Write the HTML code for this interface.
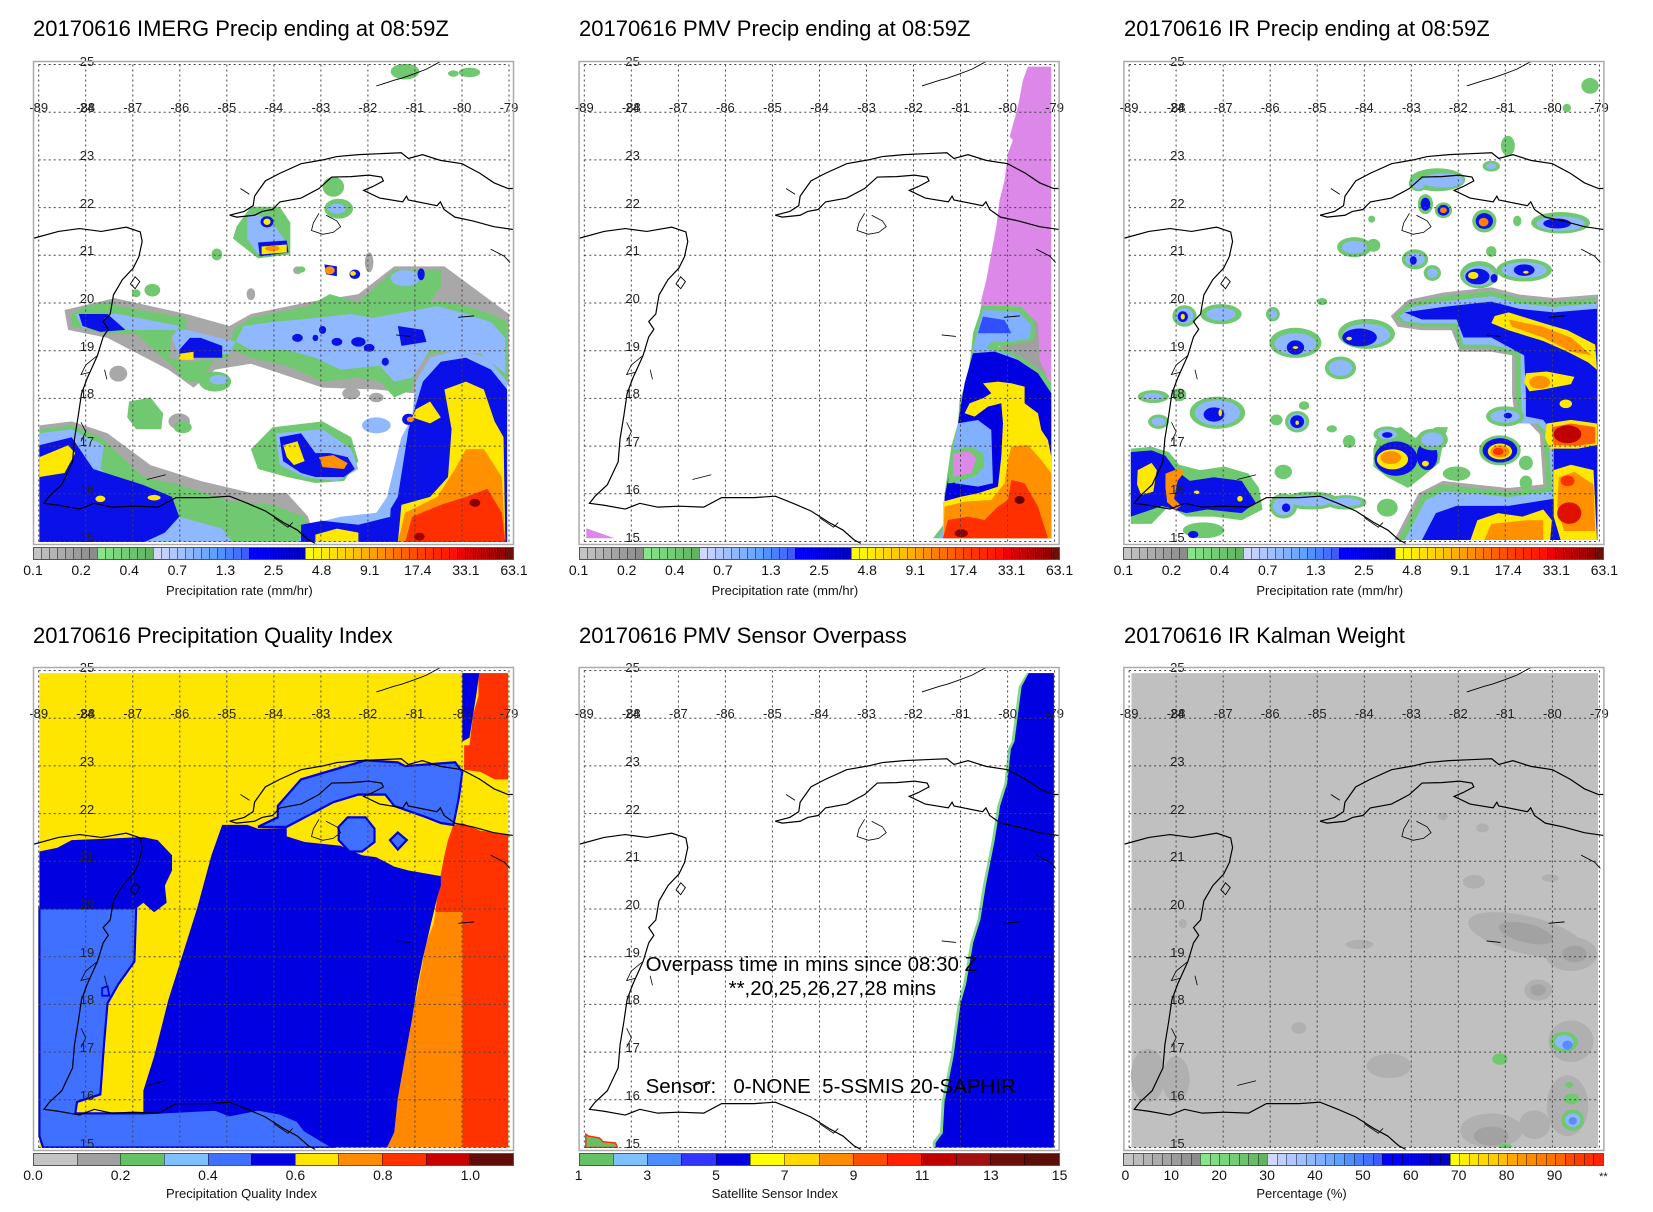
<!DOCTYPE html>
<html><head><meta charset="utf-8">
<style>
body{margin:0;background:#fff;}
#w{position:relative;width:1653px;height:1212px;overflow:hidden;background:#fff;font-family:"Liberation Sans",sans-serif;}
svg{position:absolute;left:0;top:0;}
.cb{position:absolute;height:13px;width:481px;display:flex;box-sizing:border-box;border:1px solid #555;}
.cb i{flex:1;border-left:1px solid rgba(0,0,0,0.45);}
.cb i:first-child{border-left:none;}
</style></head><body><div id="w">
<svg width="1653" height="1212" viewBox="0 0 1653 1212" font-family="Liberation Sans, sans-serif">
<defs>
<clipPath id="da"><rect x="5" y="3" width="471" height="478"/></clipPath>
<g id="grid" stroke="#444" stroke-width="1" stroke-dasharray="2,3" fill="none">
<path d="M5.7 3.5V480.5M52.7 3.5V480.5M99.8 3.5V480.5M146.8 3.5V480.5M193.8 3.5V480.5M240.9 3.5V480.5M287.9 3.5V480.5M334.9 3.5V480.5M381.9 3.5V480.5M429 3.5V480.5M476 3.5V480.5"/>
<path d="M5.7 3.5H476M5.7 51.2H476M5.7 98.9H476M5.7 146.6H476M5.7 194.3H476M5.7 242H476M5.7 289.7H476M5.7 337.4H476M5.7 385.1H476M5.7 432.8H476M5.7 480.5H476"/>
</g>
<g id="coast" transform="matrix(47.03,0,0,-47.7,4191.37,1196)" fill="none" stroke="#000" stroke-width="1.2">
<path vector-effect="non-scaling-stroke" d="M-89.1 21.36L-88.58 21.5-88.13 21.56-87.67 21.5-87.14 21.59-86.84 21.49-86.8 21.29-86.87 20.97-86.99 20.73-87.22 20.49-87.41 20.17-87.48 19.77-87.63 19.61-87.52 19.45-87.63 19.29-87.75 18.9-87.97 18.42-88.09 18.1-88.16 17.63-88.24 17.15-88.28 16.67-88.51 16.19-88.77 15.95-88.89 15.8-88.58 15.76-88.13 15.68-87.82 15.8-87.44 15.72-86.99 15.74-86.46 15.72-86.08 15.92-85.39 15.92-84.94 15.95-84.56 15.8-84.18 15.64-83.8 15.4-83.5 15.24-83.27 15.04-83.12 14.96"/>
<path vector-effect="non-scaling-stroke" d="M-84.94 21.84L-84.63 21.92-84.44 22.04-84.41 22.24-84.18 22.56-83.87 22.72-83.42 22.92-82.96 23-82.66 23.07-82.2 23.11-81.75 23.13-81.29 23.15-81.14 23.03-80.84 23.11-80.46 22.99-80 22.92-79.62 22.72-79.32 22.52-79.02 22.4-78.9 22.4"/>
<path vector-effect="non-scaling-stroke" d="M-78.9 21.54L-79.32 21.6-79.77 21.72-80.15 21.8-80.38 21.96-80.46 22.12-80.53 22.04-81.14 22.16-81.18 22.24-81.26 22.12-81.75 22.2-82.09 22.36-81.9 22.44-81.67 22.56-81.71 22.64-81.98 22.68-82.36 22.65-82.77 22.64-83.04 22.4-83.42 22.2-83.87 22.12-84.03 21.96-84.25 21.92-84.41 21.84-84.79 21.8-84.94 21.84"/>
<path vector-effect="non-scaling-stroke" stroke-width="0.8" d="M-83.04 21.88L-83.16 21.68-83.2 21.52-82.96 21.44-82.74 21.48-82.58 21.6-82.66 21.72-82.89 21.84"/>
<path vector-effect="non-scaling-stroke" stroke-width="0.9" d="M-81.82 24.55L-81.44 24.67-81.29 24.71-81.06 24.79-80.76 24.9-80.46 25.06M-84.71 22.4L-84.52 22.28M-79.39 21.13L-79.1 20.98-78.98 20.85M-80.08 19.7L-79.74 19.73M-81.4 19.33L-81.1 19.3M-86.95 20.55L-86.85 20.45-86.95 20.3-87.05 20.4Z"/>
<path vector-effect="non-scaling-stroke" stroke-width="0.8" d="M-87.75 18.9L-88.0 18.7-88.1 18.5-87.9 18.55M-87.6 18.6L-87.55 18.4M-88.1 17.5L-88.0 17.3-88.1 17.1M-86.7 16.3L-86.3 16.4M-84.0 15.5L-83.7 15.3-83.6 15.4"/>
</g>
<g id="lab" font-size="13" fill="#222" text-anchor="middle">
<text x="5.7" y="51">-89</text><text x="52.7" y="51">-88</text><text x="99.8" y="51">-87</text><text x="146.8" y="51">-86</text><text x="193.8" y="51">-85</text><text x="240.9" y="51">-84</text><text x="287.9" y="51">-83</text><text x="334.9" y="51">-82</text><text x="381.9" y="51">-81</text><text x="429" y="51">-80</text><text x="476" y="51">-79</text>
<text x="54" y="5">25</text><text x="54" y="51">24</text><text x="54" y="99">23</text><text x="54" y="147">22</text><text x="54" y="194">21</text><text x="54" y="242">20</text><text x="54" y="290">19</text><text x="54" y="337">18</text><text x="54" y="385">17</text><text x="54" y="433">16</text><text x="54" y="481">15</text>
</g>
</defs>

<g font-size="22" fill="#000">
<text x="33" y="36">20170616 IMERG Precip ending at 08:59Z</text>
<text x="579" y="36">20170616 PMV Precip ending at 08:59Z</text>
<text x="1124" y="36">20170616 IR Precip ending at 08:59Z</text>
<text x="33" y="643">20170616 Precipitation Quality Index</text>
<text x="579" y="643">20170616 PMV Sensor Overpass</text>
<text x="1124" y="643">20170616 IR Kalman Weight</text>
</g>

<!-- PANEL 1 -->
<g transform="translate(33,61)">
<g clip-path="url(#da)"><g transform="translate(-33,-61) scale(0.3584,0.3975)">
<g fill="#a8a8a8">
<path d="M180,780 L320,750 L520,790 L640,820 L700,790 L860,760 L1000,740 L1100,670 L1240,670 L1420,790 L1420,970 L1300,900 L1160,990 L1050,980 L900,975 L700,915 L600,930 L540,975 L470,930 L300,850 L190,830Z"/>
<path d="M110,1070 L200,1060 L300,1090 L420,1170 L560,1210 L700,1240 L800,1240 L860,1300 L880,1365 L110,1365Z"/>
<ellipse cx="330" cy="940" rx="25" ry="20"/><ellipse cx="500" cy="1060" rx="30" ry="20"/><ellipse cx="700" cy="740" rx="12" ry="15"/><ellipse cx="980" cy="990" rx="25" ry="15"/><ellipse cx="1050" cy="1000" rx="20" ry="12"/><ellipse cx="590" cy="1320" rx="25" ry="18"/><ellipse cx="830" cy="680" rx="12" ry="10"/><ellipse cx="1030" cy="660" rx="12" ry="25"/>
</g>
<g fill="#70c870">
<path d="M200,790 L240,770 L300,760 L330,770 L520,800 L520,830 L480,840 L470,900 L520,910 L640,900 L650,830 L700,800 L860,770 L920,740 L1000,760 L1100,680 L1230,680 L1230,720 L1200,760 L1250,760 L1300,770 L1370,790 L1415,810 L1415,960 L1360,900 L1300,880 L1200,890 L1160,930 L1150,980 L1100,1000 L1060,960 L1000,950 L900,960 L850,940 L800,920 L700,900 L650,880 L600,900 L560,960 L520,960 L480,920 L380,840 L300,840 L250,830 L200,820Z"/>
<path d="M110,1080 L200,1070 L280,1100 L400,1200 L500,1220 L640,1260 L760,1270 L850,1300 L870,1365 L110,1365Z"/>
<path d="M700,1130 L760,1075 L900,1060 L980,1100 L1000,1160 L960,1210 L880,1215 L800,1200 L720,1180Z"/>
<path d="M360,1010 L420,1000 L455,1040 L450,1080 L380,1080 L355,1050Z"/>
<path d="M700,520 L780,520 L810,560 L810,640 L720,650 L650,600 L660,570Z"/>
<ellipse cx="605" cy="640" rx="15" ry="15"/><ellipse cx="930" cy="470" rx="30" ry="25"/><ellipse cx="945" cy="525" rx="40" ry="25"/><ellipse cx="1130" cy="180" rx="40" ry="20"/><ellipse cx="1310" cy="182" rx="30" ry="12"/><ellipse cx="1265" cy="185" rx="15" ry="8"/><ellipse cx="600" cy="960" rx="45" ry="25"/><ellipse cx="425" cy="730" rx="22" ry="16"/><ellipse cx="380" cy="738" rx="12" ry="10"/><ellipse cx="510" cy="1075" rx="25" ry="15"/><ellipse cx="840" cy="678" rx="12" ry="8"/>
</g>
<g fill="#90b8ff">
<path d="M210,790 L330,790 L500,820 L480,850 L500,895 L640,890 L680,820 L760,810 L880,800 L980,790 L1040,800 L1100,790 L1220,770 L1300,790 L1370,810 L1410,850 L1410,940 L1340,890 L1200,880 L1150,950 L1100,960 L1060,920 L950,930 L880,900 L800,880 L700,880 L660,860 L520,830 L360,830 L230,825Z"/>
<path d="M110,1090 L200,1080 L240,1100 L290,1120 L280,1180 L350,1230 L480,1250 L500,1300 L620,1330 L650,1365 L110,1365Z"/>
<path d="M770,1090 L900,1080 L980,1130 L1000,1180 L940,1210 L850,1200 L780,1170Z"/>
<path d="M1080,1250 L1120,1100 L1150,1050 L1160,960 L1200,900 L1280,880 L1360,900 L1415,960 L1415,1365 L830,1365 L860,1320 L950,1300 L1050,1290Z"/>
<path d="M690,540 L720,540 L760,560 L800,610 L720,640 L690,600Z"/>
<ellipse cx="940" cy="525" rx="25" ry="12"/><ellipse cx="1130" cy="700" rx="40" ry="20"/><ellipse cx="1050" cy="1070" rx="40" ry="20"/><ellipse cx="610" cy="955" rx="25" ry="12"/>
</g>
<g fill="#0a10e8">
<path d="M1110,1250 L1140,1080 L1180,960 L1230,910 L1300,900 L1370,930 L1415,980 L1415,1365 L1085,1365 L1090,1280Z"/>
<path d="M840,1320 L900,1310 L1000,1320 L1090,1300 L1090,1365 L840,1365Z"/>
<path d="M110,1120 L200,1100 L260,1180 L400,1220 L480,1250 L500,1300 L460,1340 L400,1365 L110,1365Z"/>
<path d="M780,1100 L840,1090 L880,1140 L920,1140 L970,1150 L990,1180 L960,1200 L880,1200 L840,1190 L790,1160Z"/>
<path d="M220,790 L300,790 L350,830 L280,835 L230,820Z"/>
<path d="M500,880 L530,850 L560,850 L620,870 L620,900 L560,900 L500,900Z"/>
<path d="M1110,820 L1180,830 L1190,860 L1120,870Z"/>
<path d="M720,610 L800,605 L805,635 L725,645Z"/>
<path d="M905,665 L940,670 L940,695 L910,690Z"/>
<ellipse cx="745" cy="558" rx="18" ry="14"/><ellipse cx="900" cy="830" rx="10" ry="10"/><ellipse cx="940" cy="860" rx="15" ry="10"/><ellipse cx="1000" cy="860" rx="20" ry="12"/><ellipse cx="1030" cy="875" rx="15" ry="10"/><ellipse cx="880" cy="850" rx="8" ry="8"/><ellipse cx="830" cy="850" rx="15" ry="10"/><ellipse cx="1075" cy="910" rx="10" ry="10"/><ellipse cx="1175" cy="690" rx="10" ry="15"/><ellipse cx="990" cy="690" rx="15" ry="12"/><ellipse cx="1140" cy="1055" rx="18" ry="14"/>
</g>
<g fill="#ffe800">
<path d="M1110,1365 L1120,1270 L1200,1250 L1250,1200 L1260,1080 L1240,980 L1300,960 L1350,980 L1380,1060 L1405,1100 L1410,1365Z"/>
<path d="M1160,1030 L1200,1010 L1230,1050 L1200,1065 L1150,1050Z"/>
<path d="M110,1150 L190,1120 L210,1140 L180,1190 L110,1200Z"/>
<path d="M790,1120 L830,1110 L850,1160 L820,1170 L800,1150Z"/>
<path d="M730,620 L800,615 L800,635 L730,640Z"/>
<path d="M500,890 L540,885 L540,905 L500,905Z"/>
<path d="M880,1345 L940,1330 L1000,1340 L1000,1365 L880,1365Z"/>
<ellipse cx="745" cy="558" rx="10" ry="8"/><ellipse cx="985" cy="688" rx="8" ry="6"/><ellipse cx="280" cy="1255" rx="14" ry="8"/><ellipse cx="430" cy="1252" rx="18" ry="7"/>
</g>
<g fill="#ff9000">
<path d="M1110,1365 L1130,1290 L1220,1250 L1270,1180 L1300,1130 L1350,1130 L1400,1200 L1410,1365Z"/>
<path d="M890,1150 L930,1145 L970,1165 L960,1180 L900,1175Z"/>
<ellipse cx="920" cy="680" rx="14" ry="10"/><ellipse cx="1145" cy="1055" rx="10" ry="7"/><ellipse cx="760" cy="625" rx="20" ry="7"/>
</g>
<g fill="#ff3000">
<path d="M1130,1365 L1150,1300 L1230,1270 L1300,1250 L1360,1230 L1400,1290 L1410,1365Z"/>
</g>
<ellipse cx="1325" cy="1265" rx="15" ry="10" fill="#8a0000"/><ellipse cx="1170" cy="1350" rx="15" ry="10" fill="#a00000"/>
</g></g>
<use href="#grid"/><use href="#coast"/><use href="#lab"/>
<rect x="0.5" y="0.5" width="480" height="483" fill="none" stroke="#aaa" stroke-width="1.5"/>
</g>

<!-- PANEL 2 -->
<g transform="translate(578.6,61)">
<g clip-path="url(#da)"><g transform="translate(-0.6,-21) scale(0.3333,0.3333)">
<path fill="#dc88e8" d="M1350,80 L1420,80 L1420,1030 L1400,1000 L1380,960 L1380,850 L1330,800 L1210,795 L1210,780 L1225,720 L1240,640 L1255,560 L1265,480 L1280,420 L1290,340 L1305,300 L1295,290 L1320,200 L1335,120Z"/>
<path fill="#a0a0a0" d="M1330,800 L1380,850 L1385,960 L1420,1040 L1420,1060 L1300,950 L1250,930 L1300,900Z"/>
<path fill="#70c870" d="M1210,795 L1330,800 L1370,845 L1370,900 L1300,915 L1260,920 L1330,950 L1400,1000 L1420,1030 L1420,1495 L1065,1495 L1100,1450 L1100,1360 L1120,1220 L1140,1150 L1145,1080 L1170,1010 L1180,930 L1185,880 L1205,820Z"/>
<path fill="#80b0ff" d="M1215,810 L1320,815 L1360,855 L1355,895 L1300,905 L1240,905 L1225,925 L1300,945 L1360,985 L1410,1045 L1420,1495 L1080,1495 L1105,1450 L1105,1360 L1125,1230 L1145,1150 L1150,1080 L1175,1010 L1185,930 L1200,870Z"/>
<path fill="#0000e0" d="M1185,940 L1250,935 L1320,960 L1380,1000 L1420,1060 L1420,1495 L1095,1495 L1100,1370 L1130,1220 L1145,1120 L1160,1030Z"/>
<path fill="#3050ff" d="M1215,830 L1280,840 L1300,880 L1240,880 L1200,880Z"/>
<path fill="#80b0ff" d="M1140,1150 L1200,1140 L1240,1170 L1245,1330 L1200,1340 L1130,1330 L1125,1230Z"/>
<path fill="#70c870" d="M1120,1230 L1180,1220 L1215,1240 L1220,1280 L1190,1310 L1120,1330 L1110,1330Z"/>
<path fill="#dc88e8" d="M1125,1240 L1175,1235 L1195,1255 L1180,1300 L1125,1310Z"/>
<path fill="#ffe800" d="M1215,1030 L1260,1025 L1300,1030 L1340,1040 L1340,1090 L1380,1120 L1390,1170 L1410,1200 L1420,1250 L1420,1495 L1095,1495 L1095,1385 L1150,1370 L1200,1360 L1260,1340 L1270,1250 L1275,1150 L1270,1090 L1230,1100 L1190,1130 L1160,1120 L1175,1090 L1215,1075 L1240,1060Z"/>
<path fill="#ff9000" d="M1300,1220 L1350,1215 L1390,1260 L1420,1300 L1420,1495 L1095,1495 L1100,1400 L1160,1385 L1240,1380 L1280,1330 L1290,1260Z"/>
<path fill="#ff3000" d="M1300,1320 L1340,1330 L1380,1400 L1410,1495 L1095,1495 L1110,1440 L1170,1430 L1220,1440 L1260,1400 L1290,1380Z"/>
<ellipse cx="1325" cy="1380" rx="15" ry="12" fill="#600000"/><ellipse cx="1150" cy="1480" rx="20" ry="12" fill="#900000"/>
<path fill="#dc88e8" d="M25,1465 L40,1470 L110,1495 L25,1495Z"/>
</g></g>
<use href="#grid"/><use href="#coast"/><use href="#lab"/>
<rect x="0.5" y="0.5" width="480" height="483" fill="none" stroke="#aaa" stroke-width="1.5"/>
</g>

<!-- PANEL 3 -->
<g transform="translate(1123.4,61)">
<g clip-path="url(#da)"><g transform="translate(-13.4,-21) scale(0.3466,0.3584)">
<path fill="#a8a8a8" d="M810,770 L860,725 L960,705 L1100,690 L1180,710 L1280,720 L1408,710 L1408,1395 L820,1395 L890,1265 L960,1230 L1050,1240 L1150,1250 L1250,1240 L1240,1100 L1210,1070 L1170,1070 L1160,990 L1160,880 L1100,870 L1010,870 L985,810 L900,810 L830,800Z"/>
<path fill="#70c870" d="M820,770 L860,735 L960,715 L1100,700 L1180,720 L1280,730 L1400,720 L1408,1395 L830,1395 L900,1270 L960,1240 L1050,1250 L1150,1260 L1260,1250 L1250,1100 L1220,1060 L1180,1060 L1170,990 L1170,880 L1100,860 L1010,860 L990,800 L900,800 L840,790Z"/>
<path fill="#90b8ff" d="M835,770 L870,745 L960,730 L1100,715 L1180,735 L1280,745 L1405,735 L1405,1395 L850,1395 L910,1285 L960,1260 L1050,1265 L1150,1275 L1275,1260 L1265,1100 L1235,1070 L1190,1070 L1185,990 L1185,870 L1100,850 L1020,850 L1000,790 L900,790 L850,785Z"/>
<path fill="#0a10e8" d="M850,760 L960,745 L1100,730 L1180,750 L1280,760 L1405,750 L1405,1395 L900,1395 L940,1320 L1000,1300 L1150,1300 L1280,1280 L1280,1100 L1250,1060 L1200,1050 L1200,990 L1195,880 L1100,830 L1020,830 L1000,780 L900,780Z"/>
<path fill="#ffe800" d="M1110,770 L1150,760 L1250,790 L1320,810 L1400,850 L1405,920 L1380,900 L1320,870 L1250,840 L1150,810 L1100,790Z"/>
<path fill="#ff9000" d="M1150,780 L1250,800 L1330,830 L1390,880 L1330,870 L1250,830 L1160,800Z"/>
<path fill="#ffe800" d="M1200,930 L1260,925 L1340,940 L1330,960 L1250,975 L1210,980 L1195,955Z"/>
<ellipse cx="1240" cy="955" rx="30" ry="18" fill="#ff9000"/>
<ellipse cx="1315" cy="1015" rx="18" ry="12" fill="#ffe800"/>
<path fill="#ffe800" d="M1260,1070 L1330,1060 L1405,1070 L1405,1130 L1350,1140 L1270,1140 L1255,1110Z"/>
<path fill="#ff6000" d="M1275,1080 L1330,1070 L1400,1080 L1400,1125 L1350,1132 L1280,1130Z"/>
<ellipse cx="1320" cy="1100" rx="40" ry="25" fill="#c00000"/>
<path fill="#ffe800" d="M1280,1200 L1330,1185 L1395,1200 L1405,1395 L1300,1395 L1280,1330Z"/>
<path fill="#ff9000" d="M1295,1220 L1340,1205 L1395,1240 L1400,1370 L1310,1370 L1290,1300Z"/>
<ellipse cx="1325" cy="1320" rx="35" ry="30" fill="#e01000"/><ellipse cx="1320" cy="1230" rx="20" ry="15" fill="#ff3000"/>
<path fill="#ffe800" d="M1040,1395 L1060,1340 L1120,1320 L1190,1330 L1250,1310 L1275,1340 L1270,1395Z"/>
<path fill="#ff9000" d="M1080,1395 L1100,1350 L1200,1340 L1250,1340 L1250,1395Z"/>
<path fill="#70c870" d="M60,1140 L120,1135 L170,1150 L200,1185 L260,1200 L330,1190 L400,1210 L430,1250 L440,1310 L380,1340 L300,1330 L220,1330 L170,1300 L120,1350 L60,1350Z"/>
<path fill="#0a10e8" d="M60,1150 L120,1145 L160,1160 L190,1200 L230,1230 L300,1220 L380,1230 L420,1290 L380,1320 L280,1310 L220,1320 L150,1300 L60,1330Z"/>
<path fill="#ffe800" d="M80,1200 L120,1180 L135,1200 L125,1260 L90,1270 L78,1240Z"/>
<path fill="#ff9000" d="M160,1210 L200,1195 L215,1205 L195,1230 L185,1280 L205,1300 L190,1310 L165,1290 L160,1250Z"/>
<ellipse cx="375" cy="1280" rx="8" ry="8" fill="#ffe800"/><ellipse cx="250" cy="1262" rx="8" ry="5" fill="#ffe800"/>
<ellipse cx="270" cy="1368" rx="60" ry="22" fill="#70c870"/><ellipse cx="240" cy="1380" rx="15" ry="10" fill="#0a10e8"/>
<path fill="#70c870" d="M760,1140 L780,1090 L840,1080 L880,1110 L940,1080 L975,1080 L960,1130 L950,1180 L900,1220 L860,1250 L800,1220 L760,1190Z"/>
<ellipse cx="825" cy="1168" rx="62" ry="48" fill="#0a10e8"/><ellipse cx="915" cy="1160" rx="30" ry="40" fill="#0a10e8"/>
<ellipse cx="815" cy="1170" rx="45" ry="28" fill="#ffe800"/><ellipse cx="810" cy="1165" rx="30" ry="18" fill="#ff9000"/><ellipse cx="910" cy="1182" rx="10" ry="8" fill="#ffe800"/>
<ellipse cx="1125" cy="1145" rx="60" ry="42" fill="#70c870"/><ellipse cx="1125" cy="1145" rx="50" ry="34" fill="#0a10e8"/><ellipse cx="1125" cy="1148" rx="35" ry="22" fill="#ffe800"/><ellipse cx="1125" cy="1148" rx="27" ry="17" fill="#ff9000"/><ellipse cx="1120" cy="1148" rx="15" ry="10" fill="#ff3000"/>
<g fill="#70c870">
<ellipse cx="215" cy="770" rx="35" ry="30"/><ellipse cx="320" cy="765" rx="60" ry="28"/><ellipse cx="470" cy="765" rx="20" ry="20"/><ellipse cx="612" cy="730" rx="15" ry="10"/><ellipse cx="535" cy="845" rx="75" ry="42"/><ellipse cx="740" cy="820" rx="82" ry="42"/><ellipse cx="665" cy="915" rx="45" ry="32"/><ellipse cx="880" cy="612" rx="38" ry="28"/><ellipse cx="930" cy="650" rx="25" ry="22"/><ellipse cx="705" cy="578" rx="50" ry="28"/><ellipse cx="760" cy="573" rx="20" ry="18"/><ellipse cx="1065" cy="655" rx="55" ry="38"/><ellipse cx="1195" cy="642" rx="80" ry="32"/><ellipse cx="1100" cy="590" rx="15" ry="15"/><ellipse cx="945" cy="390" rx="80" ry="32"/><ellipse cx="890" cy="400" rx="28" ry="22"/><ellipse cx="910" cy="458" rx="22" ry="28"/><ellipse cx="962" cy="475" rx="25" ry="22"/><ellipse cx="1080" cy="505" rx="35" ry="32"/><ellipse cx="1300" cy="510" rx="85" ry="30"/><ellipse cx="1175" cy="505" rx="12" ry="15"/><ellipse cx="755" cy="500" rx="10" ry="10"/><ellipse cx="1100" cy="352" rx="25" ry="15"/><ellipse cx="1148" cy="295" rx="20" ry="28"/><ellipse cx="1385" cy="128" rx="25" ry="22"/><ellipse cx="1318" cy="190" rx="12" ry="12"/><ellipse cx="125" cy="995" rx="45" ry="18"/><ellipse cx="200" cy="990" rx="20" ry="18"/><ellipse cx="310" cy="1040" rx="80" ry="45"/><ellipse cx="540" cy="1065" rx="35" ry="30"/><ellipse cx="480" cy="1060" rx="18" ry="15"/><ellipse cx="560" cy="1020" rx="15" ry="12"/><ellipse cx="640" cy="1085" rx="15" ry="10"/><ellipse cx="690" cy="1120" rx="18" ry="18"/><ellipse cx="800" cy="1100" rx="40" ry="22"/><ellipse cx="930" cy="1115" rx="45" ry="30"/><ellipse cx="1140" cy="1050" rx="55" ry="28"/><ellipse cx="1200" cy="1180" rx="20" ry="20"/><ellipse cx="1200" cy="1235" rx="18" ry="20"/><ellipse cx="500" cy="1205" rx="25" ry="20"/><ellipse cx="500" cy="1300" rx="40" ry="35"/><ellipse cx="580" cy="1285" rx="80" ry="25"/><ellipse cx="680" cy="1290" rx="60" ry="20"/><ellipse cx="800" cy="1305" rx="30" ry="25"/><ellipse cx="1000" cy="1210" rx="40" ry="20"/><ellipse cx="140" cy="1065" rx="30" ry="20"/>
</g>
<g fill="#90b8ff">
<ellipse cx="215" cy="770" rx="25" ry="22"/><ellipse cx="320" cy="765" rx="42" ry="18"/><ellipse cx="470" cy="765" rx="12" ry="12"/><ellipse cx="535" cy="848" rx="60" ry="30"/><ellipse cx="740" cy="822" rx="68" ry="30"/><ellipse cx="665" cy="915" rx="34" ry="22"/><ellipse cx="880" cy="612" rx="28" ry="18"/><ellipse cx="930" cy="650" rx="15" ry="13"/><ellipse cx="705" cy="578" rx="36" ry="18"/><ellipse cx="1065" cy="658" rx="44" ry="28"/><ellipse cx="1195" cy="642" rx="65" ry="22"/><ellipse cx="960" cy="392" rx="60" ry="20"/><ellipse cx="890" cy="402" rx="18" ry="14"/><ellipse cx="1300" cy="512" rx="70" ry="20"/><ellipse cx="1100" cy="352" rx="15" ry="8"/><ellipse cx="125" cy="995" rx="28" ry="10"/><ellipse cx="310" cy="1040" rx="65" ry="35"/><ellipse cx="540" cy="1065" rx="26" ry="22"/><ellipse cx="800" cy="1100" rx="28" ry="14"/><ellipse cx="930" cy="1115" rx="32" ry="20"/><ellipse cx="1140" cy="1050" rx="42" ry="18"/><ellipse cx="500" cy="1300" rx="30" ry="26"/><ellipse cx="580" cy="1285" rx="62" ry="16"/><ellipse cx="680" cy="1290" rx="45" ry="12"/><ellipse cx="140" cy="1065" rx="20" ry="12"/>
</g>
<g fill="#0a10e8">
<ellipse cx="210" cy="772" rx="15" ry="15"/><ellipse cx="535" cy="858" rx="25" ry="20"/><ellipse cx="720" cy="830" rx="50" ry="25"/><ellipse cx="875" cy="615" rx="10" ry="12"/><ellipse cx="1060" cy="660" rx="35" ry="22"/><ellipse cx="1195" cy="642" rx="30" ry="16"/><ellipse cx="1108" cy="665" rx="10" ry="12"/><ellipse cx="910" cy="458" rx="14" ry="18"/><ellipse cx="962" cy="475" rx="17" ry="15"/><ellipse cx="1080" cy="505" rx="25" ry="22"/><ellipse cx="1290" cy="512" rx="40" ry="14"/><ellipse cx="300" cy="1045" rx="30" ry="20"/><ellipse cx="540" cy="1065" rx="20" ry="18"/><ellipse cx="800" cy="1102" rx="15" ry="8"/><ellipse cx="1148" cy="1048" rx="12" ry="8"/><ellipse cx="508" cy="1305" rx="12" ry="12"/>
</g>
<g fill="#ffe800"><ellipse cx="210" cy="772" rx="6" ry="8"/><ellipse cx="535" cy="858" rx="8" ry="4"/><ellipse cx="690" cy="833" rx="8" ry="5"/><ellipse cx="1048" cy="657" rx="15" ry="10"/><ellipse cx="1200" cy="648" rx="8" ry="4"/><ellipse cx="318" cy="1040" rx="5" ry="10"/><ellipse cx="540" cy="1068" rx="5" ry="6"/></g>
<g fill="#ff8000"><ellipse cx="962" cy="475" rx="10" ry="8"/><ellipse cx="1078" cy="508" rx="14" ry="12"/></g>
</g></g>
<use href="#grid"/><use href="#coast"/><use href="#lab"/>
<rect x="0.5" y="0.5" width="480" height="483" fill="none" stroke="#aaa" stroke-width="1.5"/>
</g>

<!-- PANEL 4 -->
<g transform="translate(33,667)">
<g clip-path="url(#da)"><g transform="translate(-33,-47) scale(0.3584,0.3795)">
<rect x="110" y="140" width="1308" height="1250" fill="#ffe600"/>
<path fill="#ff3300" d="M1335,140 L1418,140 L1418,420 L1380,420 L1340,400 L1295,395 L1295,330 L1310,330 L1320,250 L1335,200Z"/>
<path fill="#0000e0" d="M1290,140 L1337,140 L1330,190 L1320,250 L1310,310 L1290,320Z"/>
<path fill="#ff3300" d="M1265,540 L1290,535 L1340,555 L1418,565 L1418,1390 L1290,1390 L1290,770 L1215,770 L1220,720 L1240,620 L1250,580Z"/>
<path fill="#ff8800" d="M1215,770 L1290,770 L1290,1390 L1080,1390 L1100,1350 L1110,1260 L1140,1100 L1150,1050 L1180,900 L1185,860 L1210,800Z"/>
<path fill="#0000e0" d="M620,540 L690,540 L720,550 L800,548 L800,570 L850,585 L950,595 L1010,620 L1050,625 L1100,650 L1140,660 L1230,675 L1230,700 L1220,730 L1210,770 L1190,850 L1180,890 L1165,960 L1150,1050 L1140,1100 L1110,1260 L1100,1350 L1080,1390 L930,1390 L850,1345 L830,1320 L780,1300 L720,1290 L640,1305 L600,1290 L400,1300 L400,1240 L430,1150 L470,1000 L510,880 L550,760 L590,620Z"/>
<path fill="#4070ff" stroke="#0000e0" stroke-width="6" d="M110,760 L380,760 L375,900 L330,960 L300,1010 L290,1120 L280,1250 L215,1270 L210,1300 L400,1300 L600,1290 L640,1305 L720,1290 L780,1300 L830,1320 L850,1345 L930,1390 L120,1390 L110,1360Z"/>
<path fill="#0000e0" d="M110,610 L160,600 L200,580 L400,572 L440,580 L480,620 L480,660 L460,700 L465,745 L430,770 L400,745 L380,760 L110,760Z"/>
<path fill="#4070ff" stroke="#0000e0" stroke-width="6" d="M775,490 L840,420 L930,395 L1020,370 L1110,375 L1130,385 L1270,375 L1290,400 L1280,470 L1265,540 L1230,535 L1190,520 L1100,490 L1075,460 L1000,460 L930,480 L850,520 L800,545 L720,545 L775,520Z"/>
<path fill="#4070ff" stroke="#0000e0" stroke-width="6" d="M970,520 L1020,520 L1045,550 L1045,585 L1010,610 L975,610 L945,580 L945,545Z"/>
<path fill="#4070ff" stroke="#0000e0" stroke-width="6" d="M1110,560 L1135,580 L1110,605 L1088,580Z"/>
<path fill="#4070ff" stroke="#0000e0" stroke-width="5" d="M285,970 L300,965 L305,990 L285,990Z"/>
</g></g>
<use href="#grid"/><use href="#coast"/><use href="#lab"/>
<rect x="0.5" y="0.5" width="480" height="483" fill="none" stroke="#aaa" stroke-width="1.5"/>
</g>

<!-- PANEL 5 -->
<g transform="translate(578.6,667)">
<g clip-path="url(#da)"><g transform="translate(-18.6,-47) scale(0.3584,0.3795)">
<path fill="#80d890" d="M1302,140 L1378,140 L1378,1390 L1040,1390 L1040,1375 L1060,1350 L1065,1270 L1090,1150 L1110,1010 L1125,960 L1145,850 L1165,790 L1180,700 L1205,580 L1220,490 L1240,430 L1250,340 L1260,320 L1280,175Z"/>
<path fill="#0000e0" d="M1308,140 L1378,140 L1378,1390 L1048,1390 L1048,1378 L1068,1352 L1073,1270 L1098,1150 L1118,1010 L1133,960 L1153,850 L1173,790 L1188,700 L1213,580 L1228,490 L1248,430 L1258,340 L1268,320 L1288,175Z"/>
<path fill="#66c066" stroke="#ff3000" stroke-width="4" d="M72,1355 L80,1360 L110,1365 L120,1375 L155,1378 L160,1390 L72,1390Z"/>
</g></g>
<use href="#grid"/><use href="#coast"/><use href="#lab"/>
<g font-size="20.5" fill="#000">
<text x="67" y="304">Overpass time in mins since 08:30 Z</text>
<text x="150" y="328">**,20,25,26,27,28 mins</text>
<text x="67" y="426" xml:space="preserve">Sensor:   0-NONE  5-SSMIS 20-SAPHIR</text>
</g>
<rect x="0.5" y="0.5" width="480" height="483" fill="none" stroke="#aaa" stroke-width="1.5"/>
</g>

<!-- PANEL 6 -->
<g transform="translate(1123.4,667)">
<g clip-path="url(#da)"><g transform="translate(-13.4,-47) scale(0.3466,0.3795)">
<rect x="62" y="140" width="1346" height="1250" fill="#c0c0c0"/>
<g fill="#b0b0b0">
<ellipse cx="1200" cy="830" rx="170" ry="50" transform="rotate(12 1200 830)"/><ellipse cx="1330" cy="880" rx="75" ry="45"/><ellipse cx="1235" cy="975" rx="40" ry="28"/><ellipse cx="1050" cy="690" rx="32" ry="18"/><ellipse cx="1075" cy="548" rx="18" ry="12"/><ellipse cx="960" cy="518" rx="15" ry="10"/><ellipse cx="805" cy="1175" rx="65" ry="32"/><ellipse cx="1100" cy="1345" rx="90" ry="45"/><ellipse cx="1225" cy="1330" rx="45" ry="38"/><ellipse cx="190" cy="1210" rx="40" ry="60"/><ellipse cx="110" cy="1200" rx="50" ry="70"/><ellipse cx="545" cy="1075" rx="22" ry="15"/><ellipse cx="1330" cy="1110" rx="65" ry="55"/><ellipse cx="1320" cy="1280" rx="60" ry="80"/><ellipse cx="720" cy="855" rx="40" ry="12"/><ellipse cx="210" cy="800" rx="12" ry="12"/><ellipse cx="1270" cy="680" rx="25" ry="10"/></g>
<g fill="#a2a2a2"><ellipse cx="1200" cy="825" rx="80" ry="25" transform="rotate(12 1200 825)"/><ellipse cx="1340" cy="880" rx="35" ry="22"/><ellipse cx="1100" cy="1360" rx="50" ry="25"/><ellipse cx="1235" cy="975" rx="22" ry="15"/></g>
<g fill="#70c870"><ellipse cx="1310" cy="1112" rx="40" ry="27"/><ellipse cx="1125" cy="1157" rx="22" ry="15"/><ellipse cx="1325" cy="1225" rx="12" ry="8"/><ellipse cx="1332" cy="1262" rx="22" ry="14"/><ellipse cx="1335" cy="1318" rx="33" ry="28"/><ellipse cx="1140" cy="1387" rx="20" ry="7"/></g>
<g fill="#90b8ff"><ellipse cx="1310" cy="1112" rx="26" ry="18"/><ellipse cx="1335" cy="1318" rx="22" ry="18"/></g>
<g fill="#5a8cff"><ellipse cx="1320" cy="1120" rx="15" ry="12"/><ellipse cx="1335" cy="1320" rx="12" ry="10"/></g>
</g></g>
<use href="#grid"/><use href="#coast"/><use href="#lab"/>
<rect x="0.5" y="0.5" width="480" height="483" fill="none" stroke="#aaa" stroke-width="1.5"/>
</g>

<g font-size="14" fill="#111" text-anchor="middle">
<g transform="translate(33,575)"><text x="0">0.1</text><text x="48.1">0.2</text><text x="96.2">0.4</text><text x="144.3">0.7</text><text x="192.4">1.3</text><text x="240.5">2.5</text><text x="288.6">4.8</text><text x="336.7">9.1</text><text x="384.8">17.4</text><text x="432.9">33.1</text><text x="481">63.1</text></g>
<g transform="translate(578.6,575)"><text x="0">0.1</text><text x="48.1">0.2</text><text x="96.2">0.4</text><text x="144.3">0.7</text><text x="192.4">1.3</text><text x="240.5">2.5</text><text x="288.6">4.8</text><text x="336.7">9.1</text><text x="384.8">17.4</text><text x="432.9">33.1</text><text x="481">63.1</text></g>
<g transform="translate(1123.4,575)"><text x="0">0.1</text><text x="48.1">0.2</text><text x="96.2">0.4</text><text x="144.3">0.7</text><text x="192.4">1.3</text><text x="240.5">2.5</text><text x="288.6">4.8</text><text x="336.7">9.1</text><text x="384.8">17.4</text><text x="432.9">33.1</text><text x="481">63.1</text></g>
<g transform="translate(33,1180)"><text x="0">0.0</text><text x="87.5">0.2</text><text x="174.9">0.4</text><text x="262.4">0.6</text><text x="349.8">0.8</text><text x="437.3">1.0</text></g>
<g transform="translate(578.6,1180)"><text x="0">1</text><text x="68.7">3</text><text x="137.4">5</text><text x="206.1">7</text><text x="274.9">9</text><text x="343.6">11</text><text x="412.3">13</text><text x="481">15</text></g>
<g transform="translate(1123.4,1180)"><text x="2">0</text><text x="47.9">10</text><text x="95.8">20</text><text x="143.7">30</text><text x="191.6">40</text><text x="239.5">50</text><text x="287.4">60</text><text x="335.3">70</text><text x="383.2">80</text><text x="431.1">90</text><text x="480" font-size="11">**</text></g>
</g>
<g font-size="13" fill="#111">
<text x="166" y="595">Precipitation rate (mm/hr)</text>
<text x="711.6" y="595">Precipitation rate (mm/hr)</text>
<text x="1256.4" y="595">Precipitation rate (mm/hr)</text>
<text x="166" y="1198">Precipitation Quality Index</text>
<text x="711.6" y="1198">Satellite Sensor Index</text>
<text x="1256.4" y="1198">Percentage (%)</text>
</g>
</svg>

<div class="cb" style="left:33px;top:547px"><i style="background:#c4c4c4"></i><i style="background:#bcbcbc"></i><i style="background:#b4b4b4"></i><i style="background:#acacac"></i><i style="background:#a4a4a4"></i><i style="background:#9c9c9c"></i><i style="background:#949494"></i><i style="background:#8c8c8c"></i><i style="background:#88e488"></i><i style="background:#80dc80"></i><i style="background:#7ad47a"></i><i style="background:#74cc74"></i><i style="background:#6ec46e"></i><i style="background:#68bc68"></i><i style="background:#62b462"></i><i style="background:#d0d8ff"></i><i style="background:#c0d0ff"></i><i style="background:#b0c8ff"></i><i style="background:#a0c0ff"></i><i style="background:#90b8ff"></i><i style="background:#80b0ff"></i><i style="background:#70a8ff"></i><i style="background:#60a0ff"></i><i style="background:#5090ff"></i><i style="background:#4a80ff"></i><i style="background:#4470ff"></i><i style="background:#3c5cff"></i><i style="background:#0000ff"></i><i style="background:#0000f4"></i><i style="background:#0000ea"></i><i style="background:#0000e0"></i><i style="background:#0000d6"></i><i style="background:#0000cc"></i><i style="background:#0000c2"></i><i style="background:#ffff00"></i><i style="background:#fff400"></i><i style="background:#ffea00"></i><i style="background:#ffe000"></i><i style="background:#ffd600"></i><i style="background:#ffcc00"></i><i style="background:#ffbf00"></i><i style="background:#ffb000"></i><i style="background:#ffa000"></i><i style="background:#ff9000"></i><i style="background:#ff8000"></i><i style="background:#ff7000"></i><i style="background:#ff6000"></i><i style="background:#ff5000"></i><i style="background:#ff4000"></i><i style="background:#ff3400"></i><i style="background:#ff2800"></i><i style="background:#ff1c00"></i><i style="background:#ff1000"></i><i style="background:#f00000"></i><i style="background:#d80000"></i><i style="background:#c80000"></i><i style="background:#b80000"></i><i style="background:#a80000"></i><i style="background:#980000"></i><i style="background:#6a1008"></i></div>
<div class="cb" style="left:578.6px;top:547px"><i style="background:#c4c4c4"></i><i style="background:#bcbcbc"></i><i style="background:#b4b4b4"></i><i style="background:#acacac"></i><i style="background:#a4a4a4"></i><i style="background:#9c9c9c"></i><i style="background:#949494"></i><i style="background:#8c8c8c"></i><i style="background:#88e488"></i><i style="background:#80dc80"></i><i style="background:#7ad47a"></i><i style="background:#74cc74"></i><i style="background:#6ec46e"></i><i style="background:#68bc68"></i><i style="background:#62b462"></i><i style="background:#d0d8ff"></i><i style="background:#c0d0ff"></i><i style="background:#b0c8ff"></i><i style="background:#a0c0ff"></i><i style="background:#90b8ff"></i><i style="background:#80b0ff"></i><i style="background:#70a8ff"></i><i style="background:#60a0ff"></i><i style="background:#5090ff"></i><i style="background:#4a80ff"></i><i style="background:#4470ff"></i><i style="background:#3c5cff"></i><i style="background:#0000ff"></i><i style="background:#0000f4"></i><i style="background:#0000ea"></i><i style="background:#0000e0"></i><i style="background:#0000d6"></i><i style="background:#0000cc"></i><i style="background:#0000c2"></i><i style="background:#ffff00"></i><i style="background:#fff400"></i><i style="background:#ffea00"></i><i style="background:#ffe000"></i><i style="background:#ffd600"></i><i style="background:#ffcc00"></i><i style="background:#ffbf00"></i><i style="background:#ffb000"></i><i style="background:#ffa000"></i><i style="background:#ff9000"></i><i style="background:#ff8000"></i><i style="background:#ff7000"></i><i style="background:#ff6000"></i><i style="background:#ff5000"></i><i style="background:#ff4000"></i><i style="background:#ff3400"></i><i style="background:#ff2800"></i><i style="background:#ff1c00"></i><i style="background:#ff1000"></i><i style="background:#f00000"></i><i style="background:#d80000"></i><i style="background:#c80000"></i><i style="background:#b80000"></i><i style="background:#a80000"></i><i style="background:#980000"></i><i style="background:#6a1008"></i></div>
<div class="cb" style="left:1123.4px;top:547px"><i style="background:#c4c4c4"></i><i style="background:#bcbcbc"></i><i style="background:#b4b4b4"></i><i style="background:#acacac"></i><i style="background:#a4a4a4"></i><i style="background:#9c9c9c"></i><i style="background:#949494"></i><i style="background:#8c8c8c"></i><i style="background:#88e488"></i><i style="background:#80dc80"></i><i style="background:#7ad47a"></i><i style="background:#74cc74"></i><i style="background:#6ec46e"></i><i style="background:#68bc68"></i><i style="background:#62b462"></i><i style="background:#d0d8ff"></i><i style="background:#c0d0ff"></i><i style="background:#b0c8ff"></i><i style="background:#a0c0ff"></i><i style="background:#90b8ff"></i><i style="background:#80b0ff"></i><i style="background:#70a8ff"></i><i style="background:#60a0ff"></i><i style="background:#5090ff"></i><i style="background:#4a80ff"></i><i style="background:#4470ff"></i><i style="background:#3c5cff"></i><i style="background:#0000ff"></i><i style="background:#0000f4"></i><i style="background:#0000ea"></i><i style="background:#0000e0"></i><i style="background:#0000d6"></i><i style="background:#0000cc"></i><i style="background:#0000c2"></i><i style="background:#ffff00"></i><i style="background:#fff400"></i><i style="background:#ffea00"></i><i style="background:#ffe000"></i><i style="background:#ffd600"></i><i style="background:#ffcc00"></i><i style="background:#ffbf00"></i><i style="background:#ffb000"></i><i style="background:#ffa000"></i><i style="background:#ff9000"></i><i style="background:#ff8000"></i><i style="background:#ff7000"></i><i style="background:#ff6000"></i><i style="background:#ff5000"></i><i style="background:#ff4000"></i><i style="background:#ff3400"></i><i style="background:#ff2800"></i><i style="background:#ff1c00"></i><i style="background:#ff1000"></i><i style="background:#f00000"></i><i style="background:#d80000"></i><i style="background:#c80000"></i><i style="background:#b80000"></i><i style="background:#a80000"></i><i style="background:#980000"></i><i style="background:#6a1008"></i></div>
<div class="cb" style="left:33px;top:1153px"><i style="background:#c4c4c4"></i><i style="background:#a0a0a0"></i><i style="background:#66c066"></i><i style="background:#80c0ff"></i><i style="background:#4070ff"></i><i style="background:#0000e0"></i><i style="background:#ffe600"></i><i style="background:#ff8c00"></i><i style="background:#ff3300"></i><i style="background:#c80000"></i><i style="background:#600c08"></i></div>
<div class="cb" style="left:578.6px;top:1153px"><i style="background:#66c066"></i><i style="background:#80c0ff"></i><i style="background:#4c8cff"></i><i style="background:#3434ff"></i><i style="background:#0000e0"></i><i style="background:#ffff00"></i><i style="background:#ffd800"></i><i style="background:#ff8c00"></i><i style="background:#ff4c00"></i><i style="background:#ff2000"></i><i style="background:#c00000"></i><i style="background:#a01010"></i><i style="background:#6a1008"></i><i style="background:#5a1008"></i></div>
<div class="cb" style="left:1123.4px;top:1153px"><i style="background:#c4c4c4"></i><i style="background:#bcbcbc"></i><i style="background:#b4b4b4"></i><i style="background:#acacac"></i><i style="background:#a4a4a4"></i><i style="background:#9c9c9c"></i><i style="background:#949494"></i><i style="background:#8c8c8c"></i><i style="background:#88e488"></i><i style="background:#80dc80"></i><i style="background:#7ad47a"></i><i style="background:#74cc74"></i><i style="background:#6ec46e"></i><i style="background:#68bc68"></i><i style="background:#62b462"></i><i style="background:#d0d8ff"></i><i style="background:#c0d0ff"></i><i style="background:#b0c8ff"></i><i style="background:#a0c0ff"></i><i style="background:#90b8ff"></i><i style="background:#80b0ff"></i><i style="background:#70a8ff"></i><i style="background:#60a0ff"></i><i style="background:#5090ff"></i><i style="background:#4a80ff"></i><i style="background:#4470ff"></i><i style="background:#3c5cff"></i><i style="background:#0000ff"></i><i style="background:#0000f4"></i><i style="background:#0000ea"></i><i style="background:#0000e0"></i><i style="background:#0000d6"></i><i style="background:#0000cc"></i><i style="background:#0000c2"></i><i style="background:#ffff00"></i><i style="background:#fff000"></i><i style="background:#ffe400"></i><i style="background:#ffd800"></i><i style="background:#ffcc00"></i><i style="background:#ffc000"></i><i style="background:#ffa800"></i><i style="background:#ff9800"></i><i style="background:#ff8c00"></i><i style="background:#ff8000"></i><i style="background:#ff7400"></i><i style="background:#ff6800"></i><i style="background:#ff4800"></i><i style="background:#ff3c00"></i><i style="background:#ff3000"></i><i style="background:#ff2400"></i></div>
</div></body></html>
